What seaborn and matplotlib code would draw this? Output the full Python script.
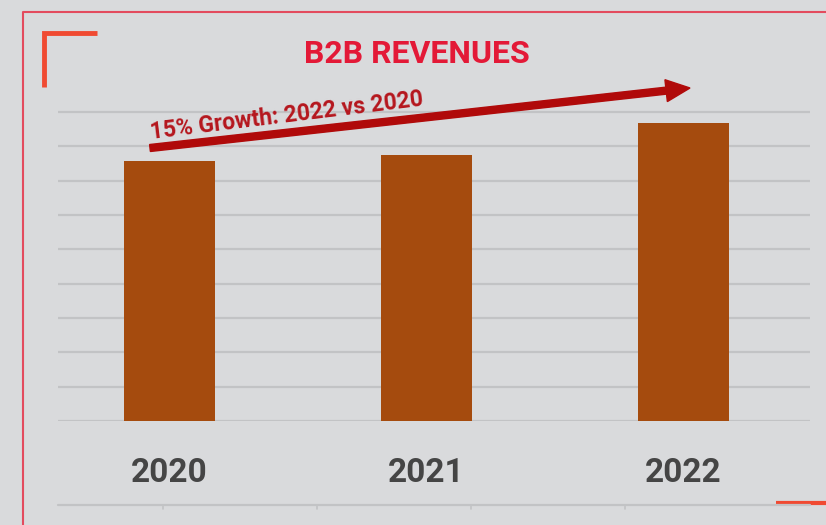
import matplotlib
matplotlib.use("Agg")
import matplotlib.pyplot as plt
import matplotlib.patches as mpatches
from matplotlib.lines import Line2D
from matplotlib.transforms import IdentityTransform
import seaborn as sns
import pandas as pd

years = ["2020", "2021", "2022"]
revenues = [7.57, 7.75, 8.68]
title_text = "B2B REVENUES"
growth_text = "15% Growth: 2022 vs 2020"

BG = "#d9dadc"
BAR = "#a54b0e"

sns.set_theme(style="white")
plt.rcParams['font.family'] = ['Roboto', 'DejaVu Sans']

W, H = 826, 525
fig = plt.figure(figsize=(W / 100, H / 100), dpi=100, facecolor=BG)

# axes geometry in pixels
px_left, px_right = 58, 810
px_base = 421
unit = 34.33
ymax = 9.05
px_top = px_base - ymax * unit
ax = fig.add_axes([px_left / W, (H - px_base) / H, (px_right - px_left) / W, (px_base - px_top) / H])
ax.set_facecolor(BG)

df = pd.DataFrame({"year": years, "revenue": revenues})
sns.barplot(data=df, x="year", y="revenue", color=BAR, saturation=1, width=0.355, ax=ax,
            zorder=3, linewidth=0, edgecolor="none")

ax.set_xlim(-0.434, 2.492)
ax.set_ylim(0, ymax)
ax.set_yticks(range(0, 10))
ax.yaxis.grid(True, color="#c2c3c5", linewidth=1.6, zorder=0)
ax.set_axisbelow(True)
ax.set_yticklabels([])
ax.tick_params(axis="y", length=0)
ax.tick_params(axis="x", length=0, pad=26)
for lbl in ax.get_xticklabels():
    lbl.set_fontsize(24)
    lbl.set_fontweight("bold")
    lbl.set_color("#454545")
ax.set_xlabel("")
ax.set_ylabel("")
for s in ax.spines.values():
    s.set_visible(False)

def fy(y):
    return (H - y) / H

def fx(x):
    return x / W

# outer pinkish frame
fig.add_artist(Line2D([fx(23), fx(23), fx(826)], [fy(525), fy(12), fy(12)],
                      color="#e34b5e", linewidth=1.5))
# corner bracket
fig.add_artist(Line2D([fx(44), fx(44), fx(97)], [fy(87), fy(33), fy(33)],
                      color="#f04a32", linewidth=3.5, solid_joinstyle="miter", solid_capstyle="butt"))
# bottom right accent
fig.add_artist(Line2D([fx(776), fx(826)], [fy(503), fy(503)],
                      color="#f04a32", linewidth=3, solid_capstyle="butt"))
# bottom secondary axis line with ticks
fig.add_artist(Line2D([fx(58), fx(810)], [fy(505), fy(505)], color="#c2c3c5", linewidth=1.6))
for tx in [163, 317, 471, 625]:
    fig.add_artist(Line2D([fx(tx), fx(tx)], [fy(505), fy(509)], color="#c2c3c5", linewidth=1.2))

# title
fig.text(fx(417), fy(54), title_text, ha="center", va="center", fontsize=23,
         fontweight="bold", color="#e31937")

# growth arrow (pixel coords, origin bottom-left)
x0, y0 = 150, H - 148
x1, y1 = 690, H - 88
arrow = mpatches.FancyArrow(x0, y0, x1 - x0, y1 - y0, width=7, head_width=22, head_length=24,
                            length_includes_head=True, color="#b00a0a", transform=IdentityTransform())
fig.add_artist(arrow)

fig.text(fx(287), fy(116), growth_text, ha="center", va="center", rotation=7,
         rotation_mode="anchor", fontsize=16.5, fontweight="bold", color="#b5161d")

fig.savefig("out.png", dpi=100, facecolor=BG)
